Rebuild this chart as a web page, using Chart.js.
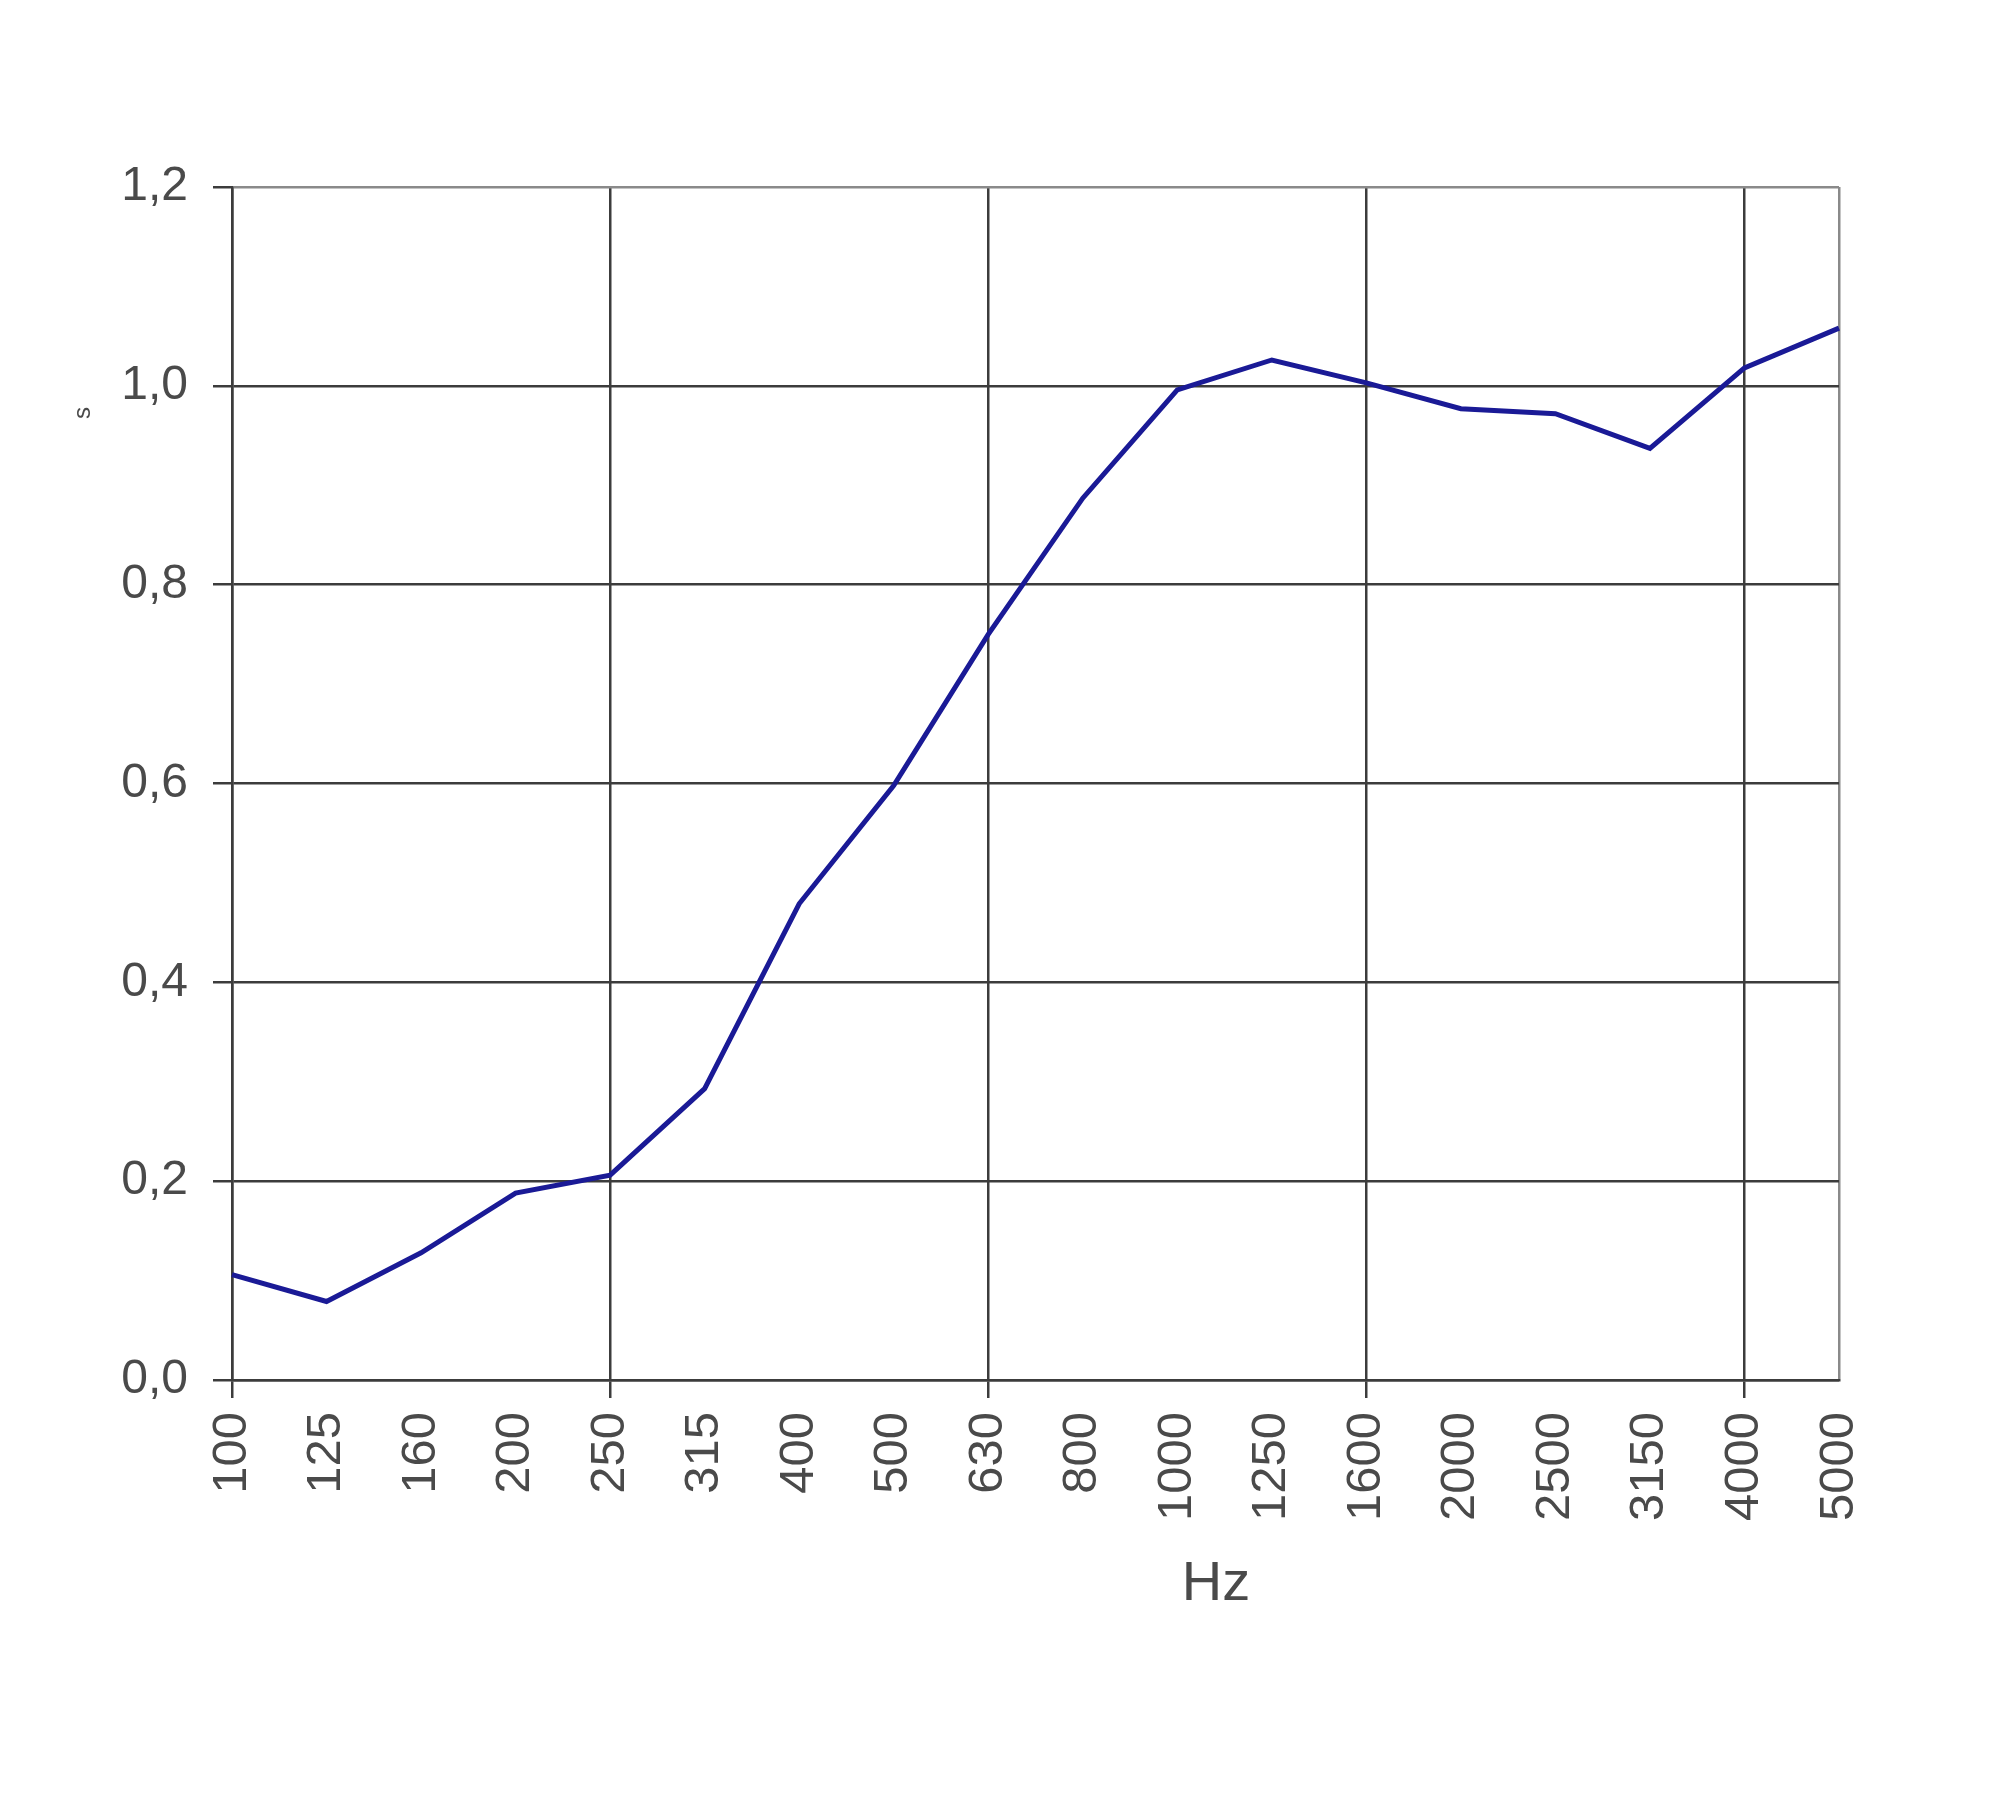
<!DOCTYPE html>
<html lang="en">
<head>
  <meta charset="UTF-8">
  <title>Reverberation time</title>
  <style>
    body { margin: 0; background: #fff; }
    canvas { display: block; }
  </style>
  <script src="https://cdn.jsdelivr.net/npm/chart.js"></script>
</head>
<body>
  <canvas id="rtChart" width="2000" height="1818"></canvas>

  <script>
    // frequency bands (Hz) and measured values (s)
    const bands = ['100', '125', '160', '200', '250', '315', '400', '500', '630', '800',
                   '1000', '1250', '1600', '2000', '2500', '3150', '4000', '5000'];
    const seconds = [0.106, 0.079, 0.128, 0.188, 0.206, 0.293, 0.479, 0.598, 0.750, 0.887,
                     0.996, 1.026, 1.003, 0.977, 0.972, 0.937, 1.018, 1.058];
    const yTicks = [0, 0.2, 0.4, 0.6, 0.8, 1.0, 1.2];

    const textColor = '#4a4a4a';
    const gridColor = '#3c3c3c';
    const edgeColor = '#8a8a8a';

    // axis titles, placed relative to the chart area
    const axisTitles = {
      id: 'axisTitles',
      afterDraw(chart) {
        const { ctx, chartArea } = chart;
        ctx.save();
        ctx.fillStyle = textColor;
        ctx.textAlign = 'center';
        ctx.textBaseline = 'middle';
        ctx.font = '56px "Liberation Sans", Arial, sans-serif';
        ctx.fillText('Hz', chartArea.left + 984, chartArea.bottom + 205);

        ctx.translate(chartArea.left - 149, chartArea.top + 226);
        ctx.rotate(-Math.PI / 2);
        ctx.font = '24px "Liberation Sans", Arial, sans-serif';
        ctx.fillText('s', 0, 0);
        ctx.restore();
      }
    };

    const ctx = document.getElementById('rtChart').getContext('2d');
    new Chart(ctx, {
      type: 'line',
      data: {
        labels: bands,
        datasets: [{
          data: seconds,
          borderColor: '#1a1a96',
          borderWidth: 5,
          pointRadius: 0,
          tension: 0,
          fill: false
        }]
      },
      options: {
        responsive: false,
        animation: false,
        layout: { padding: { top: 187, right: 161, left: 0, bottom: 0 } },
        plugins: {
          legend: { display: false },
          tooltip: { enabled: false }
        },
        scales: {
          x: {
            offset: false,
            afterFit(scale) { scale.height = 438; },
            border: { display: true, color: gridColor, width: 2.5 },
            grid: {
              lineWidth: 2.5,
              tickLength: 18,
              color: c => c.index % 4 === 0 ? gridColor : (c.index === bands.length - 1 ? edgeColor : 'rgba(0,0,0,0)'),
              tickColor: c => c.index % 4 === 0 ? gridColor : 'rgba(0,0,0,0)'
            },
            ticks: {
              autoSkip: false,
              minRotation: 90,
              maxRotation: 90,
              padding: 14,
              color: textColor,
              font: { family: '"Liberation Sans", Arial, sans-serif', size: 49 }
            }
          },
          y: {
            min: 0,
            max: 1.2,
            afterFit(scale) { scale.width = 232; },
            afterBuildTicks(scale) { scale.ticks = yTicks.map(v => ({ value: v })); },
            border: { display: true, color: gridColor, width: 2.5 },
            grid: {
              lineWidth: 2.5,
              tickLength: 19,
              color: c => c.index === yTicks.length - 1 ? edgeColor : gridColor,
              tickColor: gridColor
            },
            ticks: {
              padding: 25,
              color: textColor,
              font: { family: '"Liberation Sans", Arial, sans-serif', size: 48 },
              callback: v => v.toFixed(1).replace('.', ',')
            }
          }
        }
      },
      plugins: [axisTitles]
    });
  </script>
</body>
</html>
